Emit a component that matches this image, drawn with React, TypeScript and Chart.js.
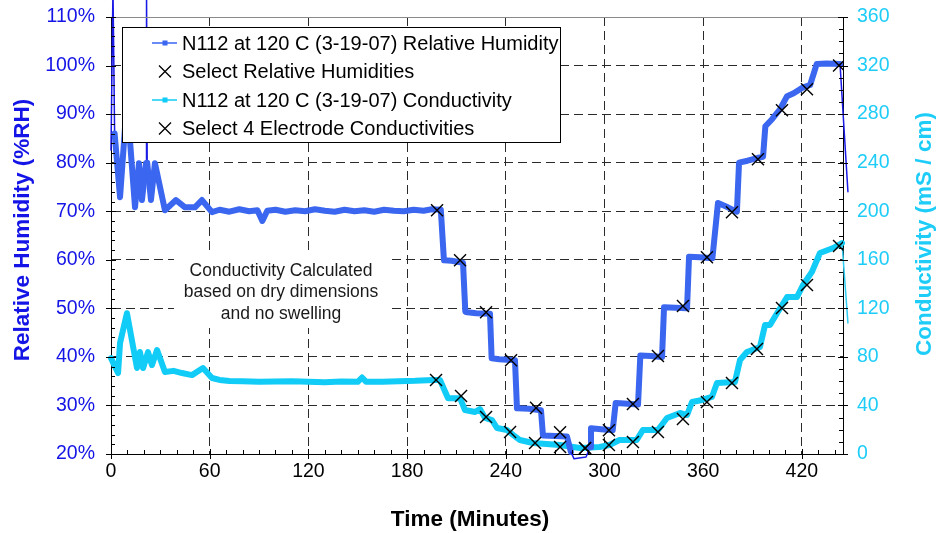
import React, { useEffect, useRef } from 'react';
import { Chart, registerables } from 'chart.js';

Chart.register(...registerables);

// ---------- data ----------
const X_TICKS = [0, 60, 120, 180, 240, 300, 360, 420];
const RH_TICKS = [20, 30, 40, 50, 60, 70, 80, 90, 100, 110];
const COND_TICKS = [0, 40, 80, 120, 160, 200, 240, 280, 320, 360];
const X_MIN = 0;
const X_MAX = 445;

const RH_LABEL = 'N112 at 120 C (3-19-07) Relative Humidity';
const SEL_RH_LABEL = 'Select Relative Humidities';
const COND_LABEL = 'N112 at 120 C (3-19-07) Conductivity';
const SEL_COND_LABEL = 'Select 4 Electrode Conductivities';
const NOTE_LINES = ['Conductivity Calculated', 'based on dry dimensions', 'and no swelling'];

// [time (min), %RH]
const RH_SERIES: [number, number][] = [
  [0, 82.6], [1.2, 116], [2.2, 86], [5.5, 72.9], [9.7, 92.8], [14.6, 70.8], [17, 79.9],
  [18.8, 72.3], [21.3, 79.9], [21.6, 116], [22, 80], [24.3, 72.3], [26.7, 79.9], [32.8, 70.2],
  [39.5, 72.3], [45, 70.8], [51, 70.8], [55.3, 72.3], [61.4, 69.8], [66, 70.3], [72, 69.9],
  [78, 70.4], [84, 70.0], [89, 70.2], [92, 68.0], [95, 70.1], [100, 70.3], [106, 69.9],
  [112, 70.2], [118, 70.0], [124, 70.4], [130, 70.1], [136, 69.9], [142, 70.3], [148, 70.0],
  [154, 70.2], [160, 69.9], [166, 70.3], [172, 70.1], [178, 70.0], [184, 70.3], [190, 70.1],
  [195, 70.4], [200.5, 70.3], [202.4, 59.9], [207, 59.8], [214, 59.4], [215.4, 49.3],
  [216.6, 49.2], [222, 49.0], [230.4, 48.9], [231.4, 39.7], [236, 39.5], [245.6, 39.3],
  [246.8, 29.4], [254, 29.3], [261.4, 29.0], [262.6, 23.8], [270, 23.7], [277.2, 23.6],
  [279.6, 20.4], [281.5, 19.0], [288.8, 19.4], [291.2, 21.4], [291.8, 25.3], [298, 25.1],
  [305, 24.9], [306.8, 30.5], [312, 30.4], [320.4, 30.2], [321.8, 40.3], [328, 40.2],
  [335, 40.0], [336.2, 50.2], [343, 50.1], [350.2, 50.0], [351.4, 60.6], [358, 60.5],
  [365.6, 60.3], [369, 71.7], [375, 70.8], [380.5, 69.9], [381.8, 80.0], [387, 80.4],
  [393.3, 81.0], [396.4, 81.2], [397.8, 87.5], [402, 89.0], [406.7, 91.0], [411, 93.7],
  [415, 94.3], [420.7, 95.5], [425, 96.0], [429, 100.3], [435, 100.4], [443.2, 100.3],
  [448, 74],
];

// [time (min), mS/cm]
const COND_SERIES: [number, number][] = [
  [0, 79], [4.3, 66.7], [5.5, 91.4], [9.7, 116], [15.8, 70.8], [17.6, 84], [19.5, 70.8],
  [22.5, 84], [24.9, 73.3], [28, 85.7], [32.8, 67.5], [38, 68.5], [43.2, 66.7], [49.2, 65],
  [55.9, 70.8], [61.4, 62.6], [66, 61], [72, 60.2], [80, 60], [90, 59.5], [100, 59.8],
  [110, 60], [120, 59.5], [130, 59.2], [140, 59.7], [150, 59.5], [152.6, 63], [155, 59.6],
  [165, 59.6], [175, 60], [185, 60.3], [196, 61], [200, 61], [204.9, 46], [212.2, 46],
  [215.2, 36.2], [221.3, 34.6], [224.3, 37], [227.4, 29.7], [231.6, 28], [234.7, 21.4],
  [240.7, 19.8], [244.4, 15.7], [248.6, 11.5], [256.5, 9.1], [272.9, 7.4], [285.1, 4.9],
  [297, 5.8], [303, 7.4], [309.1, 11.5], [319.5, 11.5], [323.4, 19.8], [332.5, 19.8],
  [338, 29.7], [345.9, 33.8], [350.2, 32.1], [353.2, 42.8], [359.3, 44.5], [365.3, 47],
  [368.4, 58.5], [379.3, 59.3], [382.4, 77.4], [386.6, 84], [394.5, 88.1], [397.6, 106.3],
  [400.6, 106.3], [404.9, 116], [411, 129.3], [417, 129.3], [420.7, 139.2], [426.1, 150],
  [431, 165.6], [439, 169.7], [444.4, 173.8], [448, 108],
];

const SELECT_RH: [number, number][] = [
  [198.2, 70.2], [212.2, 59.9], [228, 49.2], [243.2, 39.3], [258.4, 29.5], [273, 24.5],
  [288.2, 21.2], [302.7, 24.9], [317.3, 30.3], [332.5, 40.2], [347.7, 50.5], [362.3, 60.5],
  [377.5, 69.8], [393.3, 80.7], [407.9, 90.8], [423.1, 95.1], [442.6, 100],
];

const SELECT_COND: [number, number][] = [
  [197.6, 61], [212.8, 47.8], [228, 30.5], [242.6, 18.1], [257.8, 9.1], [273, 5.8],
  [288.2, 4.9], [302.7, 7.4], [317.3, 9.9], [332.5, 18.1], [347.7, 28.8], [362.3, 42.8],
  [377.5, 58.5], [392.7, 86.5], [407.9, 120.3], [423.1, 139.2], [442.6, 171.4],
];

// ---------- styling ----------
const FONT = "'Liberation Sans', Arial, Helvetica, sans-serif";
const RH_COLOR = '#3A66F0';
const RH_THIN = '#1A1AE6';
const COND_COLOR = '#10CCF6';
const COND_THIN = '#30CCF0';
const RH_TEXT = '#1414E6';
const COND_TEXT = '#1ECCF8';
const GRID = '#2a2a2a';

const toXY = (arr: [number, number][]) => arr.map(([x, y]) => ({ x, y }));

function outOfRange(ctx: any): boolean {
  const ds = ctx.chart.data.datasets[ctx.datasetIndex];
  const sc = ctx.chart.scales[ds.yAxisID];
  const a = ds.data[ctx.p0DataIndex];
  const b = ds.data[ctx.p1DataIndex];
  const bad = (p: any) => p.x > X_MAX || p.y > sc.max || p.y < sc.min;
  return bad(a) || bad(b);
}

const noPad = (s: any) => {
  s.paddingTop = 0;
  s.paddingBottom = 0;
  s.paddingLeft = 0;
  s.paddingRight = 0;
};

const decorPlugin = {
  id: 'decor',
  afterDraw(chart: any) {
    const { ctx, chartArea: a, scales } = chart;
    const xs = scales.x;
    const yl = scales.yRH;
    const yr = scales.yCond;
    ctx.save();

    // top frame line
    ctx.strokeStyle = '#8a8a8a';
    ctx.lineWidth = 1;
    ctx.beginPath();
    ctx.moveTo(a.left, a.top + 0.5);
    ctx.lineTo(a.right, a.top + 0.5);
    ctx.stroke();

    // tick marks
    ctx.strokeStyle = '#000';
    ctx.lineWidth = 1;
    ctx.beginPath();
    for (let v = X_MIN; v <= X_MAX; v += 10) {
      const px = Math.round(xs.getPixelForValue(v)) + 0.5;
      const major = v % 60 === 0;
      ctx.moveTo(px, a.bottom + (major ? 5 : 0));
      ctx.lineTo(px, a.bottom - (major ? 5 : 4));
    }
    for (let v = 20; v <= 110; v += 2) {
      const py = Math.round(yl.getPixelForValue(v)) + 0.5;
      const major = v % 10 === 0;
      ctx.moveTo(a.left - (major ? 5 : 0), py);
      ctx.lineTo(a.left + (major ? 5 : 4), py);
    }
    for (let v = 0; v <= 360; v += 10) {
      const py = Math.round(yr.getPixelForValue(v)) + 0.5;
      const major = v % 40 === 0;
      ctx.moveTo(a.right + (major ? 5 : 0), py);
      ctx.lineTo(a.right - (major ? 5 : 4), py);
    }
    ctx.stroke();

    // axis titles
    ctx.font = `bold 22.5px ${FONT}`;
    ctx.textAlign = 'center';
    ctx.textBaseline = 'middle';
    ctx.fillStyle = RH_TEXT;
    ctx.save();
    ctx.translate(23, 230);
    ctx.rotate(-Math.PI / 2);
    ctx.fillText('Relative Humidity (%RH)', 0, 0);
    ctx.restore();
    ctx.fillStyle = COND_TEXT;
    ctx.save();
    ctx.translate(925, 234);
    ctx.rotate(-Math.PI / 2);
    ctx.fillText('Conductivity (mS / cm)', 0, 0);
    ctx.restore();
    ctx.fillStyle = '#000';
    ctx.fillText('Time (Minutes)', 470, 520);

    // note box
    ctx.fillStyle = '#fff';
    ctx.fillRect(174, 255, 214, 73);
    ctx.fillStyle = '#1a1a1a';
    ctx.font = `17.5px ${FONT}`;
    NOTE_LINES.forEach((t, i) => ctx.fillText(t, 281, 271 + i * 21.5));

    // legend
    const lx = 122.5, ly = 27.5, lw = 438, lh = 115;
    ctx.fillStyle = '#fff';
    ctx.fillRect(lx, ly, lw, lh);
    ctx.strokeStyle = '#000';
    ctx.lineWidth = 1;
    ctx.strokeRect(lx, ly, lw, lh);
    const rows = [43, 71.5, 100, 128.5];
    chart.data.datasets.forEach((ds: any, i: number) => {
      const cy = rows[i];
      if (ds.showLine === false) {
        ctx.strokeStyle = '#000';
        ctx.lineWidth = 1.3;
        ctx.beginPath();
        ctx.moveTo(159, cy - 6); ctx.lineTo(171, cy + 6);
        ctx.moveTo(171, cy - 6); ctx.lineTo(159, cy + 6);
        ctx.stroke();
      } else {
        ctx.strokeStyle = ds.borderColor;
        ctx.lineWidth = 1.5;
        ctx.beginPath();
        ctx.moveTo(152, cy); ctx.lineTo(177, cy);
        ctx.stroke();
        ctx.fillStyle = ds.borderColor;
        ctx.fillRect(162.5, cy - 2.5, 5, 5);
      }
      ctx.fillStyle = '#000';
      ctx.font = `20px ${FONT}`;
      ctx.textAlign = 'left';
      ctx.fillText(ds.label, 182, cy + 1);
    });

    ctx.restore();
  },
};

export default function App() {
  const ref = useRef<HTMLCanvasElement | null>(null);

  useEffect(() => {
    document.body.style.margin = '0';
    const canvas = ref.current;
    if (!canvas) return;
    Chart.defaults.font.family = FONT;

    const lineDs = (label: string, data: [number, number][], axis: string, color: string, thin: string) => ({
      type: 'line' as const,
      label,
      data: toXY(data),
      yAxisID: axis,
      borderColor: color,
      backgroundColor: color,
      borderWidth: 6,
      borderJoinStyle: 'round' as const,
      borderCapStyle: 'round' as const,
      pointRadius: 0,
      tension: 0,
      clip: false as any,
      order: 1,
      segment: {
        borderWidth: (c: any) => (outOfRange(c) ? 1.5 : 6),
        borderColor: (c: any) => (outOfRange(c) ? thin : color),
      },
    });

    const markDs = (label: string, data: [number, number][], axis: string) => ({
      type: 'line' as const,
      label,
      data: toXY(data),
      yAxisID: axis,
      showLine: false,
      pointStyle: 'crossRot' as const,
      pointRadius: 8.5,
      pointBorderWidth: 1.4,
      pointBorderColor: '#000',
      pointBackgroundColor: '#000',
      borderColor: '#000',
      order: 0,
    });

    const chart = new Chart(canvas, {
      type: 'line',
      data: {
        datasets: [
          lineDs(RH_LABEL, RH_SERIES, 'yRH', RH_COLOR, RH_THIN),
          markDs(SEL_RH_LABEL, SELECT_RH, 'yRH'),
          lineDs(COND_LABEL, COND_SERIES, 'yCond', COND_COLOR, COND_THIN),
          markDs(SEL_COND_LABEL, SELECT_COND, 'yCond'),
        ] as any,
      },
      options: {
        responsive: false,
        animation: false,
        events: [],
        layout: { padding: { top: 17, left: 0, right: 0, bottom: 0 } },
        plugins: { legend: { display: false }, tooltip: { enabled: false }, title: { display: false } },
        scales: {
          x: {
            type: 'linear',
            position: 'bottom',
            min: X_MIN,
            max: X_MAX,
            afterBuildTicks: (s: any) => { s.ticks = X_TICKS.map((v) => ({ value: v })); },
            afterFit: (s: any) => { s.height = 79; noPad(s); },
            ticks: { color: '#000', font: { size: 19.5, family: FONT }, padding: 6, maxRotation: 0, autoSkip: false },
            grid: { drawTicks: false, color: GRID, lineWidth: 1 },
            border: { display: true, color: '#000', width: 1, dash: [9, 5] },
          },
          yRH: {
            type: 'linear',
            position: 'left',
            min: 20,
            max: 110,
            afterBuildTicks: (s: any) => { s.ticks = RH_TICKS.map((v) => ({ value: v })); },
            afterFit: (s: any) => { s.width = 111; noPad(s); },
            ticks: { color: RH_TEXT, font: { size: 19.5, family: FONT }, padding: 16, callback: (v: any) => `${v}%` },
            grid: {
              drawTicks: false,
              lineWidth: 1,
              color: (c: any) => (c.tick && c.tick.value === 110 ? 'rgba(0,0,0,0)' : GRID),
            },
            border: { display: true, color: '#000', width: 1, dash: [9, 5] },
          },
          yCond: {
            type: 'linear',
            position: 'right',
            min: 0,
            max: 360,
            afterBuildTicks: (s: any) => { s.ticks = COND_TICKS.map((v) => ({ value: v })); },
            afterFit: (s: any) => { s.width = 94; noPad(s); },
            ticks: { color: COND_TEXT, font: { size: 19.5, family: FONT }, padding: 14 },
            grid: { display: false, drawTicks: false },
            border: { display: true, color: '#000', width: 1 },
          },
        },
      },
      plugins: [decorPlugin],
    } as any);

    return () => chart.destroy();
  }, []);

  return (
    <div style={{ width: 937, height: 533 }}>
      <canvas ref={ref} width={937} height={533} style={{ display: 'block' }} />
    </div>
  );
}
